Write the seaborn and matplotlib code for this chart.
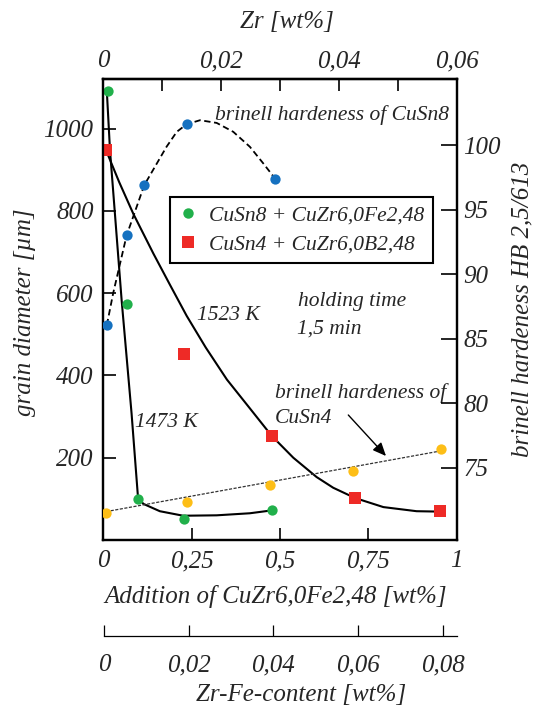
import matplotlib
matplotlib.use("Agg")
import matplotlib.pyplot as plt
import seaborn as sns
from matplotlib.lines import Line2D
from matplotlib.ticker import FixedFormatter

# --- measured data -------------------------------------------------------
# grain diameter [um] vs. addition of CuZr6,0Fe2,48 [wt%]
cusn8_x = [0.014, 0.066, 0.098, 0.229, 0.477]
cusn8_grain = [1091, 573, 100, 51, 74]
cusn4_x = [0.008, 0.228, 0.477, 0.713, 0.953]
cusn4_grain = [947, 451, 253, 102, 70]

# brinell hardness HB 2,5/613
hb_cusn8_x = [0.010, 0.066, 0.116, 0.236, 0.486]
hb_cusn8 = [86.05, 93.0, 96.9, 101.6, 97.4]
hb_cusn4_x = [0.008, 0.238, 0.472, 0.708, 0.955]
hb_cusn4 = [71.47, 72.37, 73.66, 74.77, 76.43]

# hand-fitted curves through the measurements
curve_1473_x = [0.010, 0.019, 0.052, 0.080, 0.098, 0.113, 0.160, 0.226, 0.321, 0.415, 0.477]
curve_1473_y = [1091, 947, 582, 308, 106, 88, 70, 59, 60, 65, 72]
curve_1523_x = [0.008, 0.045, 0.085, 0.142, 0.189, 0.236, 0.290, 0.350, 0.415, 0.477,
                0.538, 0.604, 0.651, 0.713, 0.793, 0.887, 0.953]
curve_1523_y = [947, 870, 793, 696, 620, 545, 468, 390, 320, 253,
                200, 153, 127, 102, 80, 70, 69]
curve_hb8_x = [0.010, 0.028, 0.066, 0.116, 0.179, 0.208, 0.236, 0.274, 0.321, 0.368,
               0.415, 0.453, 0.486]
curve_hb8_y = [86.05, 88.53, 93.0, 96.9, 99.87, 101.03, 101.62, 101.93, 101.72, 101.03,
               99.87, 98.58, 97.42]
trend_hb4_x = [0.008, 0.955]
trend_hb4_y = [71.6, 76.3]

# axis ticks and labels
x_ticks = [0, 0.25, 0.5, 0.75, 1]
x_ticklabels = ["0", "0,25", "0,5", "0,75", "1"]
grain_ticks = [200, 400, 600, 800, 1000]
hb_ticks = [75, 80, 85, 90, 95, 100]
zr_ticks = [0, 0.02, 0.04, 0.06]
zr_ticklabels = ["0", "0,02", "0,04", "0,06"]
zr_minor = [0.01, 0.03, 0.05]
zrfe_ticks = [0, 0.02, 0.04, 0.06, 0.08]
zrfe_ticklabels = ["0", "0,02", "0,04", "0,06", "0,08"]

legend_labels = ["CuSn8 + CuZr6,0Fe2,48", "CuSn4 + CuZr6,0B2,48"]

# CuZr6,0Fe2,48 carries 6 wt% Zr
ZR_FRACTION = 0.06

GREEN = "#21B04B"
RED = "#EE2A26"
BLUE = "#1571C0"
YELLOW = "#FDBE17"

# --- style ---------------------------------------------------------------
sns.set_style("ticks")
plt.rcParams.update({
    "font.family": ["Liberation Serif", "DejaVu Serif"],
    "font.style": "italic",
    "axes.linewidth": 1.6,
    "axes.edgecolor": "black",
    "axes.axisbelow": False,
})

TICK = 18
ANN = 15.5

W, H = 536, 709
fig = plt.figure(figsize=(W / 100, H / 100), dpi=100)
L, R, T, B = 103.3, 456.5, 79.3, 540.0
ax = fig.add_axes([L / W, 1 - B / H, (R - L) / W, (B - T) / H])
ax2 = ax.twinx()

# grain diameter curves and points
sns.lineplot(x=curve_1473_x, y=curve_1473_y, sort=False, estimator=None,
             color="black", lw=1.5, ax=ax)
sns.lineplot(x=curve_1523_x, y=curve_1523_y, sort=False, estimator=None,
             color="black", lw=1.5, ax=ax)
sns.scatterplot(x=cusn8_x, y=cusn8_grain, color=GREEN, marker="o", s=55,
                linewidth=0, ax=ax, zorder=4)
sns.scatterplot(x=cusn4_x, y=cusn4_grain, color=RED, marker="s", s=64,
                linewidth=0, ax=ax, zorder=4)

# hardness curves and points
sns.lineplot(x=trend_hb4_x, y=trend_hb4_y, sort=False, estimator=None,
             color="#333333", lw=0.9, linestyle=(0, (2.5, 1.2)), ax=ax2)
sns.lineplot(x=curve_hb8_x, y=curve_hb8_y, sort=False, estimator=None,
             color="black", lw=1.3, linestyle=(0, (3.5, 2)), ax=ax2)
sns.scatterplot(x=hb_cusn8_x, y=hb_cusn8, color=BLUE, marker="o", s=55,
                linewidth=0, ax=ax2, zorder=4)
sns.scatterplot(x=hb_cusn4_x, y=hb_cusn4, color=YELLOW, marker="o", s=55,
                linewidth=0, ax=ax2, zorder=4)

# --- axes ----------------------------------------------------------------
ax.set_xlim(0, 1)
ax.set_ylim(0, 1120)
ax2.set_ylim(69.4, 105.1)

ax.set_xticks(x_ticks)
ax.set_xticklabels(x_ticklabels)
ax.set_yticks(grain_ticks)
ax.set_yticklabels([str(v) for v in grain_ticks])
ax2.set_yticks(hb_ticks)
ax2.set_yticklabels([str(v) for v in hb_ticks])

# Zr content on top
sec = ax.secondary_xaxis("top", functions=(lambda a: a * ZR_FRACTION,
                                           lambda z: z / ZR_FRACTION))
sec.set_xticks(zr_ticks)
sec.xaxis.set_major_formatter(FixedFormatter(zr_ticklabels))
sec.set_xticks(zr_minor, minor=True)
sec.spines["top"].set_linewidth(1.6)

# Zr-Fe content scale below the plot
x0, x1 = 104.0, 457.0
ax3 = fig.add_axes([x0 / W, 1 - 636 / H, (x1 - x0) / W, 0.001])
ax3.set_xlim(0, 0.0834)
ax3.set_ylim(0, 1)
for side in ("top", "left", "right"):
    ax3.spines[side].set_visible(False)
ax3.spines["bottom"].set_linewidth(0.9)
ax3.patch.set_visible(False)
ax3.set_yticks([])
ax3.set_xticks(zrfe_ticks)
ax3.set_xticklabels(zrfe_ticklabels)

# tick labels outside; the inward tick marks are drawn below
ax.tick_params(axis="x", which="both", direction="in", length=0,
               labelsize=TICK, pad=7.5, bottom=True, top=False)
ax.tick_params(axis="y", which="both", direction="in", length=0,
               labelsize=TICK, pad=7, left=True, right=False)
ax2.tick_params(axis="y", which="both", direction="in", length=0,
                labelsize=TICK, pad=5, right=True, left=False)
sec.tick_params(axis="x", which="both", direction="in", length=0,
                labelsize=TICK, pad=5, top=True, bottom=False)
ax3.tick_params(axis="x", direction="in", length=8, width=0.9, labelsize=TICK, pad=13,
                bottom=True, top=False, color="black")

# inward tick marks (length as a fraction of the axes size)
tick_kw = dict(color="black", lw=1.2, clip_on=False, solid_capstyle="butt", zorder=6)
for v in x_ticks[1:-1]:
    ax.plot([v, v], [0, 0.026], transform=ax.get_xaxis_transform(), **tick_kw)
for z in zr_ticks[1:-1] + zr_minor:
    ax.plot([z / ZR_FRACTION] * 2, [1, 1 - 0.026], transform=ax.get_xaxis_transform(),
            **tick_kw)
for g in grain_ticks:
    ax.plot([0, 0.037], [g, g], transform=ax.get_yaxis_transform(), **tick_kw)
for h in hb_ticks:
    ax2.plot([1, 1 - 0.045], [h, h], transform=ax2.get_yaxis_transform(), **tick_kw)

# axis titles
lbl = dict(fontsize=TICK)
ax.set_ylabel("grain diameter [µm]", **lbl)
ax.yaxis.set_label_coords(25 / W, 1 - 311.7 / H, transform=fig.transFigure)
ax.yaxis.label.set_va("center")
ax2.set_ylabel("brinell hardeness HB 2,5/613", rotation=90, **lbl)
ax2.yaxis.set_label_coords(522.7 / W, 1 - 309 / H, transform=fig.transFigure)
ax2.yaxis.label.set_va("center")
ax.set_xlabel("Addition of CuZr6,0Fe2,48 [wt%]", **lbl)
ax.xaxis.set_label_coords(275.7 / W, 1 - 597 / H, transform=fig.transFigure)
ax.xaxis.label.set_va("center")
sec.set_xlabel("Zr [wt%]", **lbl)
sec.xaxis.set_label_coords(286.8 / W, 1 - 22 / H, transform=fig.transFigure)
sec.xaxis.label.set_va("center")
ax3.set_xlabel("Zr-Fe-content [wt%]", **lbl)
ax3.xaxis.set_label_coords(301 / W, 1 - 695 / H, transform=fig.transFigure)
ax3.xaxis.label.set_va("center")

# --- annotations ---------------------------------------------------------
def ax_frac(px, py):
    return ((px - L) / (R - L), (B - py) / (B - T))

def note(px, py, s):
    ax2.text(*ax_frac(px, py), s, transform=ax2.transAxes, fontsize=ANN,
             ha="left", va="center")

note(215, 115, "brinell hardeness of CuSn8")
note(298, 301.7, "holding time")
note(296.7, 329, "1,5 min")
note(196.7, 315.5, "1523 K")
note(135, 422.7, "1473 K")
note(275, 392.7, "brinell hardeness of")
note(275, 418.3, "CuSn4")
ax2.annotate("", xy=ax_frac(386, 456), xytext=ax_frac(348.3, 415),
             xycoords="axes fraction", textcoords="axes fraction",
             arrowprops=dict(arrowstyle="-|>,head_length=0.8,head_width=0.35",
                             color="black", lw=1.0, shrinkA=0, shrinkB=0))

# legend
handles = [
    Line2D([], [], marker="o", ls="none", color=GREEN, markersize=7.5, markeredgewidth=0),
    Line2D([], [], marker="s", ls="none", color=RED, markersize=8, markeredgewidth=0),
]
leg = ax2.legend(handles, legend_labels, loc="upper left",
                 bbox_to_anchor=ax_frac(170, 196.7), borderaxespad=0,
                 fontsize=ANN, frameon=True, fancybox=False, framealpha=1,
                 edgecolor="black", borderpad=0.4, labelspacing=0.4,
                 handlelength=0.9, handletextpad=0.5)
leg.get_frame().set_linewidth(1.5)

fig.savefig("out.png", dpi=100)
